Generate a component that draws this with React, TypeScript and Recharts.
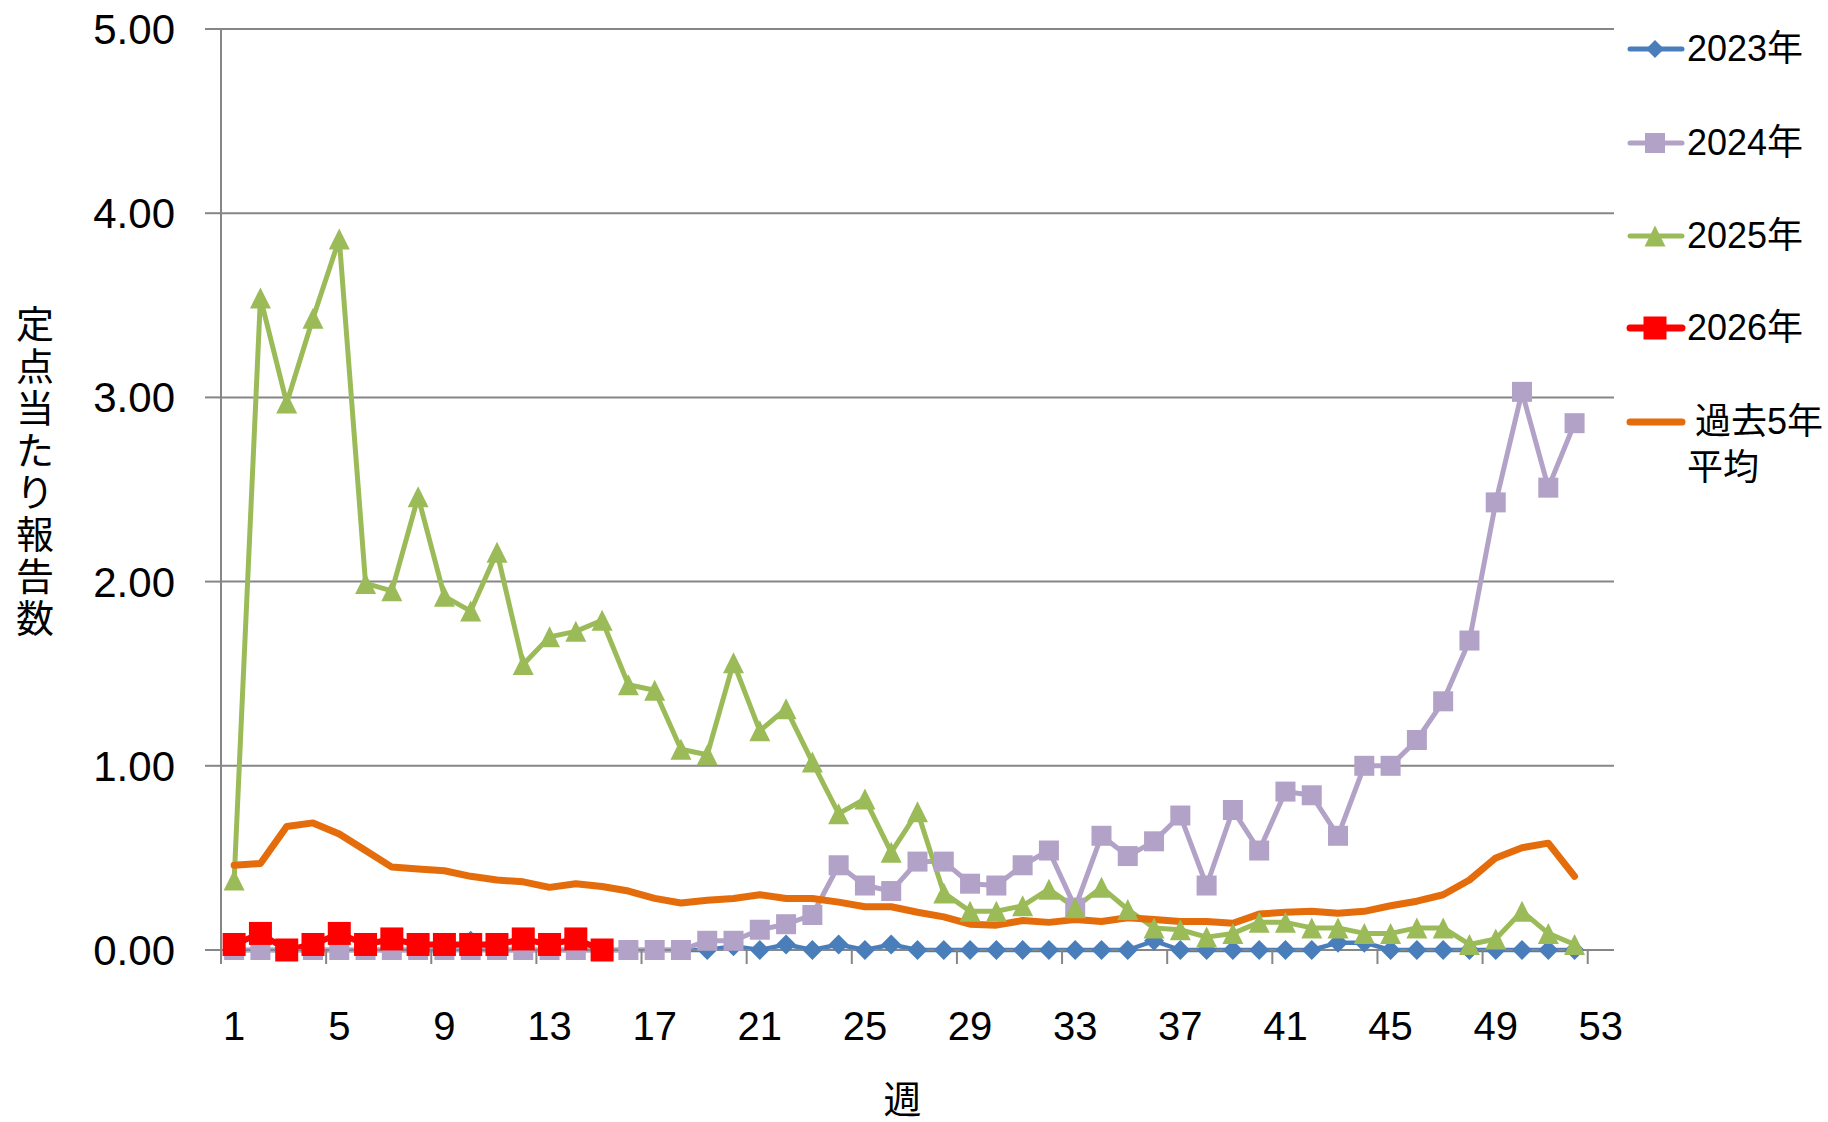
import { LineChart, Line, XAxis, YAxis, CartesianGrid, Legend } from 'recharts'

// 週 (categories)
const weeks = [
  1, 2, 3, 4, 5, 6, 7, 8, 9, 10, 11, 12, 13, 14, 15, 16, 17, 18, 19, 20,
  21, 22, 23, 24, 25, 26, 27, 28, 29, 30, 31, 32, 33, 34, 35, 36, 37, 38, 39, 40,
  41, 42, 43, 44, 45, 46, 47, 48, 49, 50, 51, 52, 53,
]
const weekTicks = [1, 5, 9, 13, 17, 21, 25, 29, 33, 37, 41, 45, 49, 53]
const valueTicks = [0, 1, 2, 3, 4, 5]

// 定点当たり報告数, one value per week
const y2023 = [
  0, 0, 0, 0, 0, 0, 0, 0, 0, 0.05, 0, 0, 0, 0, 0, 0, 0, 0, 0, 0.02,
  0, 0.03, 0, 0.03, 0, 0.03, 0, 0, 0, 0, 0, 0, 0, 0, 0, 0.05, 0, 0, 0, 0,
  0, 0, 0.04, 0.04, 0, 0, 0, 0, 0, 0, 0, 0,
]
const y2024 = [
  0, 0, 0, 0, 0, 0, 0, 0, 0, 0, 0, 0, 0, 0, 0, 0, 0, 0, 0.05, 0.05,
  0.11, 0.14, 0.19, 0.46, 0.35, 0.32, 0.48, 0.48, 0.36, 0.35, 0.46, 0.54, 0.23, 0.62, 0.51, 0.59, 0.73, 0.35, 0.76, 0.54,
  0.86, 0.84, 0.62, 1.0, 1.0, 1.14, 1.35, 1.68, 2.43, 3.03, 2.51, 2.86,
]
const y2025 = [
  0.38, 3.54, 2.97, 3.43, 3.86, 1.99, 1.95, 2.46, 1.92, 1.84, 2.16, 1.55, 1.7, 1.73, 1.79, 1.44, 1.41, 1.09, 1.06, 1.56,
  1.19, 1.31, 1.02, 0.74, 0.82, 0.53, 0.75, 0.31, 0.21, 0.21, 0.24, 0.33, 0.23, 0.34, 0.22, 0.12, 0.11, 0.07, 0.09, 0.15,
  0.15, 0.12, 0.12, 0.09, 0.09, 0.12, 0.12, 0.03, 0.06, 0.21, 0.09, 0.03,
]
const y2026 = [0.03, 0.09, 0, 0.03, 0.09, 0.03, 0.06, 0.03, 0.03, 0.03, 0.03, 0.06, 0.03, 0.06, 0]
const avg5 = [
  0.46, 0.47, 0.67, 0.69, 0.63, 0.54, 0.45, 0.44, 0.43, 0.4, 0.38, 0.37, 0.34, 0.36, 0.345, 0.32, 0.28, 0.255, 0.27, 0.28,
  0.3, 0.28, 0.28, 0.26, 0.235, 0.235, 0.205, 0.18, 0.14, 0.135, 0.16, 0.15, 0.165, 0.155, 0.175, 0.165, 0.155, 0.155, 0.145, 0.195,
  0.205, 0.21, 0.2, 0.21, 0.24, 0.265, 0.3, 0.38, 0.5, 0.555, 0.58, 0.4,
]

const data = weeks.map((w, i) => ({
  week: w,
  y2023: y2023[i] ?? null,
  y2024: y2024[i] ?? null,
  y2025: y2025[i] ?? null,
  y2026: y2026[i] ?? null,
  avg5: avg5[i] ?? null,
}))

const FONT = "'Liberation Sans', 'Noto Sans CJK JP', sans-serif"
const GRID = '#868686'
const BLUE = '#4A7EBB'
const PURPLE = '#B3A2C7'
const GREEN = '#9BBB59'
const RED = '#FF0000'
const ORANGE = '#E46C0A'

const W = 1828
const H = 1122
const PLOT_LEFT = 221
const LEGEND_W = 214
const PLOT_BOTTOM = 950
const HALF_CAT = (W - LEGEND_W - PLOT_LEFT) / 53 / 2

// markers
const Diamond = ({ cx, cy, fill, r = 10 }: any) =>
  cx == null || cy == null ? null : (
    <path d={`M${cx},${cy - r}L${cx + r},${cy}L${cx},${cy + r}L${cx - r},${cy}Z`} fill={fill} />
  )
const Square = ({ cx, cy, fill, s = 20 }: any) =>
  cx == null || cy == null ? null : <rect x={cx - s / 2} y={cy - s / 2} width={s} height={s} fill={fill} />
const Triangle = ({ cx, cy, fill, s = 21 }: any) =>
  cx == null || cy == null ? null : (
    <path d={`M${cx},${cy - s / 2}L${cx + s / 2},${cy + s / 2}L${cx - s / 2},${cy + s / 2}Z`} fill={fill} />
  )

const XTick = ({ x, payload }: any) => (
  <g>
    <line x1={x - HALF_CAT} x2={x - HALF_CAT} y1={PLOT_BOTTOM} y2={PLOT_BOTTOM + 14} stroke={GRID} strokeWidth={2} />
    <text x={x} y={PLOT_BOTTOM + 76} textAnchor="middle" dominantBaseline="central" fontSize={40} fontFamily={FONT} fill="#000">
      {payload.value}
    </text>
  </g>
)

const YTitle = () => (
  <g>
    {'定点当たり報告数'.split('').map((ch, i) => (
      <text key={i} x={35} y={325 + i * 42} textAnchor="middle" dominantBaseline="central" fontSize={38} fontFamily={FONT} fill="#000">
        {ch}
      </text>
    ))}
  </g>
)

const XTitle = ({ viewBox }: any) => (
  <text x={viewBox.x + viewBox.width / 2 - 15} y={1100} textAnchor="middle" dominantBaseline="central" fontSize={38} fontFamily={FONT} fill="#000">
    週
  </text>
)

const legendItems = [
  { label: '2023年', color: BLUE, width: 5, marker: <Diamond cx={41} cy={23} r={9} fill={BLUE} /> },
  { label: '2024年', color: PURPLE, width: 5, marker: <Square cx={41} cy={23} s={20} fill={PURPLE} /> },
  { label: '2025年', color: GREEN, width: 5, marker: <Triangle cx={41} cy={23} s={21} fill={GREEN} /> },
  { label: '2026年', color: RED, width: 7, marker: <Square cx={41} cy={23} s={23} fill={RED} /> },
  { label: '過去5年', label2: '平均', color: ORANGE, width: 7, marker: null, indent: 8 },
]
const legendCenters = [49, 143, 236, 328, 422]

const LegendBox = () => (
  <div style={{ position: 'relative', width: LEGEND_W, height: 500, fontFamily: FONT, fontSize: 36, color: '#000' }}>
    {legendItems.map((it, i) => (
      <div key={it.label} style={{ position: 'absolute', left: 0, top: legendCenters[i] - 23, display: 'flex', alignItems: 'flex-start' }}>
        <svg width={73} height={46} style={{ flex: 'none' }}>
          <line x1={16} x2={68} y1={23} y2={23} stroke={it.color} strokeWidth={it.width} strokeLinecap="round" />
          {it.marker}
        </svg>
        <div style={{ lineHeight: '46px', whiteSpace: 'nowrap' }}>
          <div style={{ marginLeft: it.indent ?? 0 }}>{it.label}</div>
          {it.label2 && <div>{it.label2}</div>}
        </div>
      </div>
    ))}
  </div>
)

export default function App() {
  return (
    <div style={{ position: 'absolute', left: 0, top: 0, width: W, height: H, background: '#fff' }}>
      <LineChart width={W} height={H} data={data} margin={{ top: 29, right: 0, left: 0, bottom: 0 }}>
        <CartesianGrid horizontal vertical={false} stroke={GRID} strokeWidth={2} />
        <XAxis
          dataKey="week"
          type="number"
          domain={[0.5, 53.5]}
          ticks={weekTicks}
          interval={0}
          height={H - PLOT_BOTTOM}
          axisLine={{ stroke: GRID, strokeWidth: 2 }}
          tickLine={false}
          tick={<XTick />}
          label={<XTitle />}
        />
        <YAxis
          type="number"
          domain={[0, 5]}
          ticks={valueTicks}
          width={PLOT_LEFT}
          tickFormatter={(v: number) => v.toFixed(2)}
          tick={{ fill: '#000', fontSize: 42, fontFamily: FONT }}
          tickSize={16}
          tickMargin={30}
          tickLine={{ stroke: GRID, strokeWidth: 2 }}
          axisLine={{ stroke: GRID, strokeWidth: 2 }}
          label={<YTitle />}
        />
        <Legend
          layout="vertical"
          align="right"
          verticalAlign="top"
          content={<LegendBox />}
          wrapperStyle={{ top: 0, right: 0, width: LEGEND_W }}
        />
        <Line
          dataKey="y2023"
          stroke={BLUE}
          strokeWidth={4.5}
          strokeLinejoin="round"
          dot={(p: any) => <Diamond key={p.index} cx={p.cx} cy={p.cy} fill={BLUE} />}
          activeDot={false}
          isAnimationActive={false}
        />
        <Line
          dataKey="y2024"
          stroke={PURPLE}
          strokeWidth={5}
          strokeLinejoin="round"
          dot={(p: any) => <Square key={p.index} cx={p.cx} cy={p.cy} fill={PURPLE} />}
          activeDot={false}
          isAnimationActive={false}
        />
        <Line
          dataKey="y2025"
          stroke={GREEN}
          strokeWidth={5}
          strokeLinejoin="round"
          dot={(p: any) => <Triangle key={p.index} cx={p.cx} cy={p.cy} fill={GREEN} />}
          activeDot={false}
          isAnimationActive={false}
        />
        <Line
          dataKey="y2026"
          stroke={RED}
          strokeWidth={6}
          strokeLinejoin="round"
          dot={(p: any) => <Square key={p.index} cx={p.cx} cy={p.cy} s={23} fill={RED} />}
          activeDot={false}
          isAnimationActive={false}
        />
        <Line
          dataKey="avg5"
          stroke={ORANGE}
          strokeWidth={7}
          strokeLinejoin="round"
          strokeLinecap="round"
          dot={false}
          activeDot={false}
          isAnimationActive={false}
        />
      </LineChart>
    </div>
  )
}
